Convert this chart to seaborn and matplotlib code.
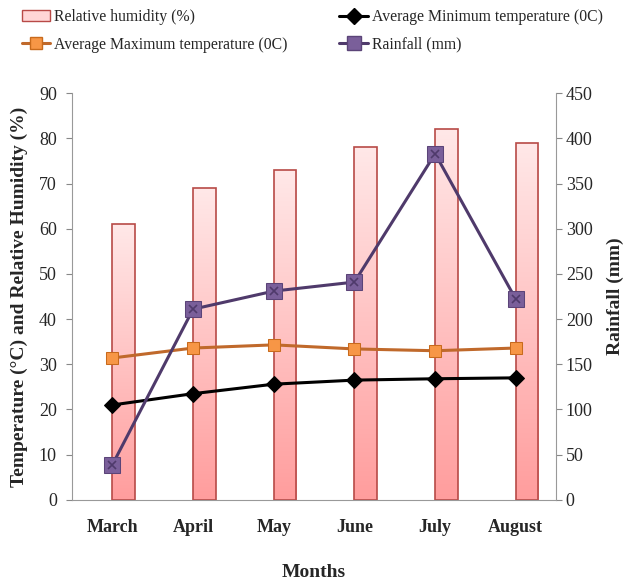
import numpy as np
import pandas as pd
import seaborn as sns
import matplotlib.pyplot as plt
from matplotlib.colors import LinearSegmentedColormap
from matplotlib.lines import Line2D
from matplotlib.patches import Patch

months = ["March", "April", "May", "June", "July", "August"]
humidity = [61, 69, 73, 78, 82, 79]
min_temp = [21.0, 23.5, 25.6, 26.5, 26.8, 27.0]
max_temp = [31.4, 33.6, 34.3, 33.4, 33.0, 33.6]
rainfall = [39, 211, 231, 241, 383, 222]

df = pd.DataFrame({"month": months, "humidity": humidity,
                   "min_temp": min_temp, "max_temp": max_temp,
                   "rainfall": rainfall})

sns.set_style("white")
plt.rcParams["font.family"] = ["Liberation Serif", "DejaVu Serif"]

fig = plt.figure(figsize=(6.27, 5.86), dpi=100)
ax = fig.add_axes([0.115, 0.147, 0.772, 0.694])

# humidity bars, starting at category centre and extending right
bw = 0.28
sns.barplot(data=df, x="month", y="humidity", ax=ax, width=bw,
            color="#ffd0d0", edgecolor="#b84a47", linewidth=1.2, saturation=1)
cmap = LinearSegmentedColormap.from_list("pink", ["#ff9d9d", "#ffe8e8"])
grad = np.linspace(0, 1, 256).reshape(-1, 1)
for p in ax.patches:
    p.set_x(p.get_x() + bw / 2)
    x0, w, h = p.get_x(), p.get_width(), p.get_height()
    im = ax.imshow(grad, cmap=cmap, origin="lower", aspect="auto",
                   extent=[x0, x0 + w, 0, h], zorder=p.get_zorder())
    im.set_clip_path(p)
    p.set_facecolor("none")
    p.set_zorder(p.get_zorder() + 0.1)

xs = np.arange(len(months))
sns.lineplot(x=xs, y=min_temp, ax=ax, color="black", lw=2.2, marker="D",
             markersize=8, markerfacecolor="black", markeredgecolor="black",
             zorder=5)
sns.lineplot(x=xs, y=max_temp, ax=ax, color="#c0692b", lw=2.2, marker="s",
             markersize=9, markerfacecolor="#f79646", markeredgecolor="#c86a1c",
             zorder=5)

ax.set_xlim(-0.5, 5.5)
ax.set_ylim(0, 90)
ax.set_yticks(range(0, 91, 10))
ax.set_xticks(xs)
ax.set_xticks(np.arange(-0.5, 6, 1), minor=True)
ax.set_xticklabels(months, fontweight="bold", fontsize=13)
ax.tick_params(axis="x", which="major", length=0, pad=14)
ax.tick_params(axis="x", which="minor", length=5, color="#888888", direction="out")
ax.tick_params(axis="y", length=4, color="#888888", direction="out",
               labelsize=13, pad=7)
ax.set_xlabel("Months", fontweight="bold", fontsize=14, labelpad=20)
ax.set_ylabel("Temperature (°C) and Relative Humidity (%)", fontweight="bold",
              fontsize=14, labelpad=8)
for s in ["left", "bottom"]:
    ax.spines[s].set_color("#999999")
ax.spines["top"].set_visible(False)
ax.spines["right"].set_visible(False)

ax2 = ax.twinx()
sns.lineplot(x=xs, y=rainfall, ax=ax2, color="#4f3a6b", lw=2.2, marker="s",
             markersize=11, markerfacecolor="#7a5f9a", markeredgecolor="#5b4478",
             zorder=5)
ax2.plot(xs, rainfall, ls="none", marker="x", ms=6, mew=1.2,
         color="#4f3a6b", zorder=6)
ax2.set_ylim(0, 450)
ax2.set_yticks(range(0, 451, 50))
ax2.tick_params(axis="y", length=4, color="#888888", direction="out",
                labelsize=13, pad=3)
ax2.set_ylabel("Rainfall (mm)", fontweight="bold", fontsize=14, labelpad=10)
ax2.spines["right"].set_color("#999999")
for s in ["left", "bottom", "top"]:
    ax2.spines[s].set_visible(False)

handles = [
    Patch(facecolor="#ffd6d6", edgecolor="#b84a47", label="Relative humidity (%)"),
    Line2D([], [], color="#c0692b", lw=2.2, marker="s", ms=9,
           markerfacecolor="#f79646", markeredgecolor="#c86a1c",
           label="Average Maximum temperature (0C)"),
    Line2D([], [], color="black", lw=2.2, marker="D", ms=8,
           label="Average Minimum temperature (0C)"),
    Line2D([], [], color="#4f3a6b", lw=2.2, marker="s", ms=10,
           markerfacecolor="#7a5f9a", markeredgecolor="#5b4478",
           label="Rainfall (mm)"),
]
fig.legend(handles=handles, ncol=2, loc="upper left",
           bbox_to_anchor=(22 / 627, 1 - 9 / 586),
           frameon=False, fontsize=11.3, handlelength=1.8, handletextpad=0.25,
           columnspacing=3.3, labelspacing=0.75, borderpad=0, borderaxespad=0)

fig.savefig("out.png", dpi=100)
